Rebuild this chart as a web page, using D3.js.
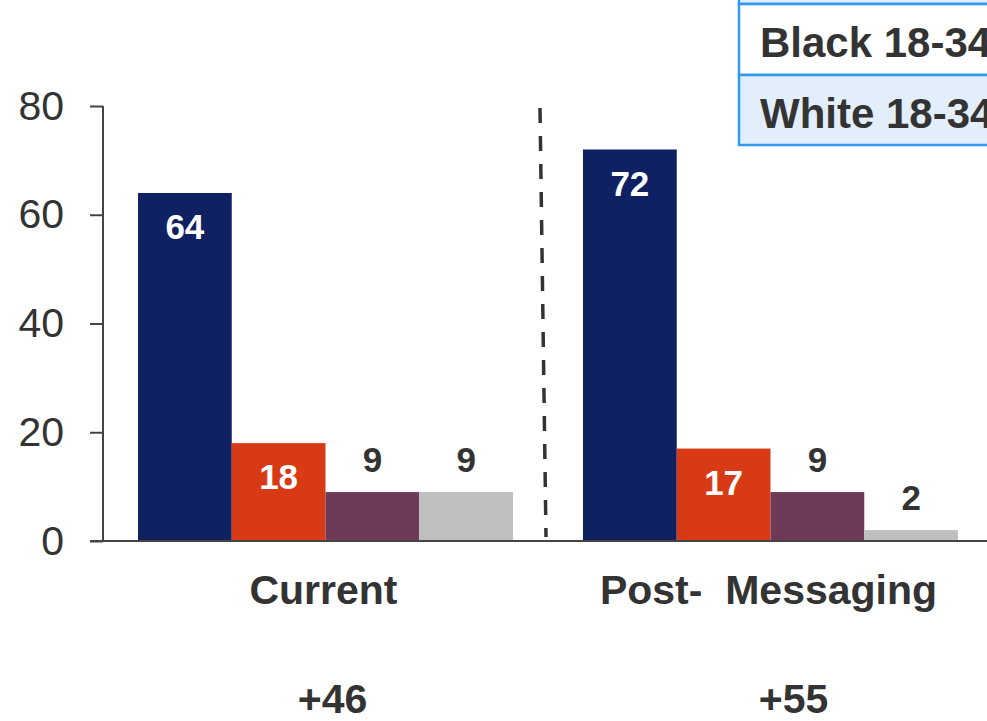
<!DOCTYPE html>
<html>
<head>
<meta charset="utf-8">
<script src="https://cdn.jsdelivr.net/npm/d3@7"></script>
<style>
  html, body { margin: 0; padding: 0; background: #fff; }
  svg { display: block; font-family: "Liberation Sans", Arial, sans-serif; }
  svg text { white-space: pre; }
</style>
</head>
<body>
<svg id="chart" width="987" height="721"></svg>
<script>
// Chart data
const groups = ["Current", "Post-  Messaging"];
const seriesNames = ["Navy", "Orange", "Purple", "Grey"];
const currentValues = [64, 18, 9, 9];
const postValues = [72, 17, 9, 2];
const netLabels = ["+46", "+55"];
const yTicks = [0, 20, 40, 60, 80];
const legendRows = ["", "Black 18-34", "White 18-34"];

const colors = ["#0f2063", "#d93a16", "#6e3a57", "#bfbfbf"];
const insideLabel = [true, true, false, false];

const values = [currentValues, postValues];

const svg = d3.select("#chart");
const textColor = "#333333";
const axisColor = "#444444";

const x0 = 103, yBase = 541, yTop = 106;

const y = d3.scaleLinear().domain([0, 80]).range([yBase, yTop]);
const xGroup = d3.scaleBand().domain(groups).range([x0, x0 + 890])
  .paddingInner(70 / 445).paddingOuter(35 / 445);
const xSeries = d3.scaleBand().domain(seriesNames).range([0, xGroup.bandwidth()]).padding(0);

// Bars with value labels
groups.forEach((g, gi) => {
  const gx = xGroup(g);
  const gEl = svg.append("g").attr("transform", `translate(${gx},0)`);
  seriesNames.forEach((s, si) => {
    const v = values[gi][si];
    gEl.append("rect")
      .attr("x", xSeries(s))
      .attr("y", y(v))
      .attr("width", xSeries.bandwidth())
      .attr("height", y(0) - y(v))
      .attr("fill", colors[si]);
    const cx = xSeries(s) + xSeries.bandwidth() / 2;
    gEl.append("text")
      .attr("x", cx)
      .attr("y", insideLabel[si] ? y(v) + 46 : y(v) - 20)
      .attr("text-anchor", "middle")
      .attr("font-weight", "bold")
      .attr("font-size", 35)
      .attr("fill", insideLabel[si] ? "#ffffff" : textColor)
      .text(v);
  });
});

// Y axis
const yAxis = d3.axisLeft(y).tickValues(yTicks).tickSize(13).tickPadding(26).tickFormat(d3.format("d"));
const ya = svg.append("g").attr("transform", `translate(${x0},0)`).call(yAxis);
ya.select(".domain").remove();
ya.selectAll(".tick line").attr("stroke", axisColor).attr("stroke-width", 2);
ya.selectAll(".tick text")
  .attr("font-family", "\"Liberation Sans\", Arial, sans-serif")
  .attr("font-size", 41)
  .attr("fill", textColor);
svg.append("line")
  .attr("x1", x0).attr("x2", x0)
  .attr("y1", y(80)).attr("y2", y(0))
  .attr("stroke", axisColor).attr("stroke-width", 2);
// Baseline
svg.append("line")
  .attr("x1", x0 - 13).attr("x2", 987)
  .attr("y1", y(0)).attr("y2", y(0))
  .attr("stroke", axisColor).attr("stroke-width", 2);

// Dashed divider between the two groups
const divX = (xGroup(groups[0]) + xGroup.bandwidth() + xGroup(groups[1])) / 2;
svg.append("line")
  .attr("x1", divX - 8).attr("y1", y(80) + 2)
  .attr("x2", divX - 2).attr("y2", y(0) - 4)
  .attr("stroke", "#333")
  .attr("stroke-width", 3.5)
  .attr("stroke-dasharray", "15,13");

// Category labels
groups.forEach((g) => {
  svg.append("text")
    .attr("x", xGroup(g) + xGroup.bandwidth() / 2 - 2)
    .attr("y", 604)
    .attr("text-anchor", "middle")
    .attr("font-weight", "bold")
    .attr("font-size", 41)
    .attr("fill", textColor)
    .text(g);
});

// Net change labels
const netDx = [7, 23];
netLabels.forEach((t, gi) => {
  svg.append("text")
    .attr("x", xGroup(groups[gi]) + xGroup.bandwidth() / 2 + netDx[gi])
    .attr("y", 713)
    .attr("text-anchor", "middle")
    .attr("font-weight", "bold")
    .attr("font-size", 41)
    .attr("fill", textColor)
    .text(t);
});

// Legend table (top right)
const lx = 739, rowH = 71;
const rowTops = [4 - rowH, 4, 75];
const rowFill = ["#e3eefb", "#ffffff", "#e3eefb"];
const legend = svg.append("g");
legendRows.forEach((r, i) => {
  legend.append("rect")
    .attr("x", lx).attr("y", rowTops[i])
    .attr("width", 400).attr("height", i === 2 ? 70 : rowH)
    .attr("fill", rowFill[i])
    .attr("stroke", "#2f9bf0").attr("stroke-width", 2.5);
  if (r) {
    legend.append("text")
      .attr("x", lx + 21)
      .attr("y", rowTops[i] + 53)
      .attr("font-weight", "bold")
      .attr("font-size", 42)
      .attr("fill", textColor)
      .text(r);
  }
});
</script>
</body>
</html>
